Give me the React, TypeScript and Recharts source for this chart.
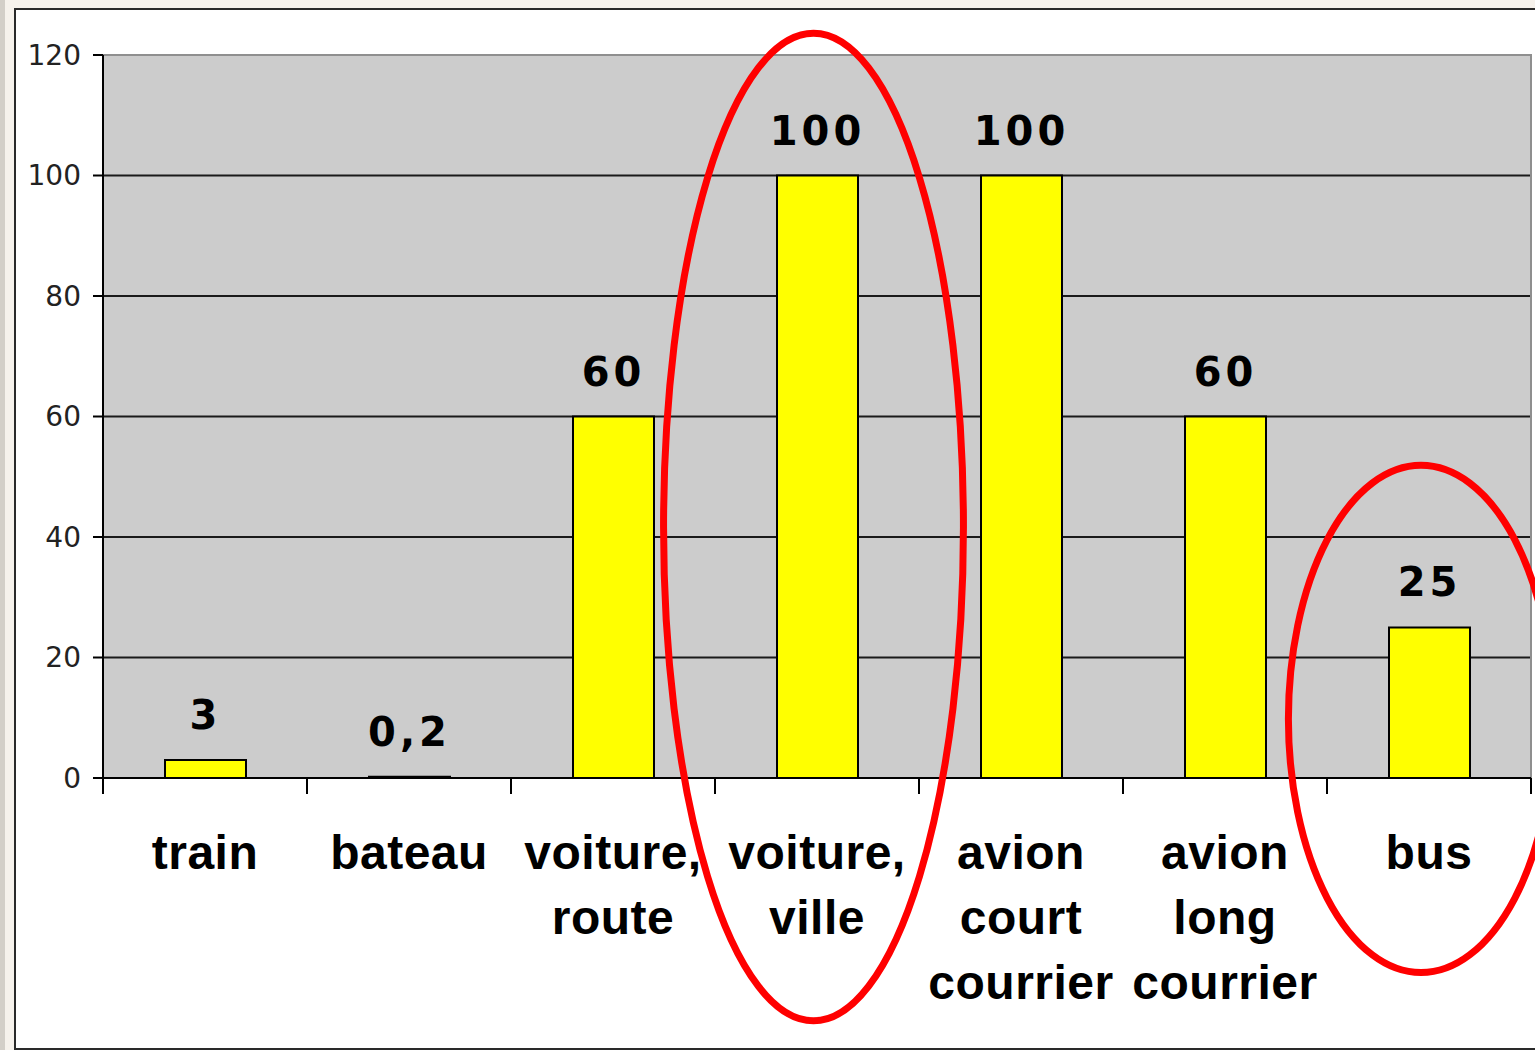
import React from 'react';
import { BarChart, Bar, XAxis, YAxis, CartesianGrid, LabelList, ReferenceArea } from 'recharts';

const categories = [
  'train',
  'bateau',
  'voiture, route',
  'voiture, ville',
  'avion court courrier',
  'avion long courrier',
  'bus',
];
const tickLines = [
  ['train'],
  ['bateau'],
  ['voiture,', 'route'],
  ['voiture,', 'ville'],
  ['avion', 'court', 'courrier'],
  ['avion', 'long', 'courrier'],
  ['bus'],
];
const values = [3, 0.2, 60, 100, 100, 60, 25];
const yTicks = [0, 20, 40, 60, 80, 100, 120];

// red hand-drawn circles around two categories (value range they span)
const circled = [
  { category: 'voiture, ville', top: 123.6, bottom: -40.3, dx: -3.5, spread: 0.735 },
  { category: 'bus', top: 51.9, bottom: -32.3, dx: -8, spread: 0.65 },
];

const data = categories.map((name, i) => ({ name, value: values[i] }));

const CategoryTick = (props: any) => {
  const { x, y, payload, index } = props;
  const half = payload && payload.offset ? payload.offset : 102;
  const lines = tickLines[index] || [String(payload.value)];
  return (
    <g>
      <line x1={x - half} y1={y} x2={x - half} y2={y + 16} stroke="#000" strokeWidth={2} />
      {index === categories.length - 1 && (
        <line x1={x + half} y1={y} x2={x + half} y2={y + 16} stroke="#000" strokeWidth={2} />
      )}
      <text
        x={x}
        y={y + 91}
        textAnchor="middle"
        fill="#000"
        fontFamily="'Liberation Sans', Arial, sans-serif"
        fontWeight="bold"
        fontSize={48}
        letterSpacing={0.5}
      >
        {lines.map((l, i) => (
          <tspan key={i} x={x} dy={i === 0 ? 0 : 65}>
            {l}
          </tspan>
        ))}
      </text>
    </g>
  );
};

const ellipseShape = (dx: number, spread: number) => (props: any) => {
  const { x, y, width, height } = props;
  return (
    <ellipse
      cx={x + width / 2 + dx}
      cy={y + height / 2}
      rx={width * spread}
      ry={height / 2}
      fill="none"
      stroke="#ff0000"
      strokeWidth={7}
    />
  );
};

const plotBorder = (props: any) => {
  const { x, y, width, height } = props;
  return (
    <path
      d={`M${x},${y} H${x + width} V${y + height}`}
      fill="none"
      stroke="#8f8f8f"
      strokeWidth={2}
    />
  );
};

const App: React.FC = () => {
  return (
    <div
      style={{
        position: 'absolute',
        left: 0,
        top: 0,
        width: 1535,
        height: 1050,
        overflow: 'hidden',
        background: '#f6f2ec',
      }}
    >
      <div style={{ position: 'absolute', left: 0, top: 0, width: 5, height: 1050, background: '#d3cfc8' }} />
      <div
        style={{
          position: 'absolute',
          left: 14,
          top: 8,
          width: 1600,
          height: 1038,
          border: '2px solid #2a2a2a',
          background: '#ffffff',
        }}
      />
      <div style={{ position: 'absolute', left: 0, top: 0 }}>
        <BarChart
          width={1535}
          height={1050}
          data={data}
          margin={{ top: 55, right: 4, left: 0, bottom: 0 }}
          barSize={81}
        >
          <CartesianGrid vertical={false} fill="#cccccc" stroke="#1a1a1a" strokeWidth={2} />
          <XAxis
            dataKey="name"
            height={272}
            interval={0}
            tickLine={false}
            tickSize={0}
            tickMargin={0}
            axisLine={{ stroke: '#000', strokeWidth: 2 }}
            tick={<CategoryTick />}
          />
          <YAxis
            width={103}
            domain={[0, 120]}
            ticks={yTicks}
            interval={0}
            tickSize={10}
            tickMargin={12}
            tickLine={{ stroke: '#000', strokeWidth: 2 }}
            axisLine={{ stroke: '#000', strokeWidth: 2 }}
            tick={{ fill: '#222', fontSize: 28, fontFamily: "'DejaVu Sans', Verdana, sans-serif" }}
          />
          <ReferenceArea
            x1={categories[0]}
            x2={categories[categories.length - 1]}
            y1={0}
            y2={120}
            ifOverflow="visible"
            shape={plotBorder}
          />
          <Bar dataKey="value" fill="#ffff00" stroke="#000" strokeWidth={2} isAnimationActive={false}>
            <LabelList
              dataKey="value"
              position="top"
              offset={31}
              formatter={(v: any) => String(v).replace('.', ',')}
              fill="#000"
              fontSize={40}
              fontWeight="bold"
              letterSpacing={4}
              fontFamily="'DejaVu Sans', Verdana, sans-serif"
            />
          </Bar>
          {circled.map((c) => (
            <ReferenceArea
              key={c.category}
              x1={c.category}
              x2={c.category}
              y1={c.bottom}
              y2={c.top}
              ifOverflow="visible"
              zIndex={2500}
              shape={ellipseShape(c.dx, c.spread)}
            />
          ))}
        </BarChart>
      </div>
    </div>
  );
};

export default App;
